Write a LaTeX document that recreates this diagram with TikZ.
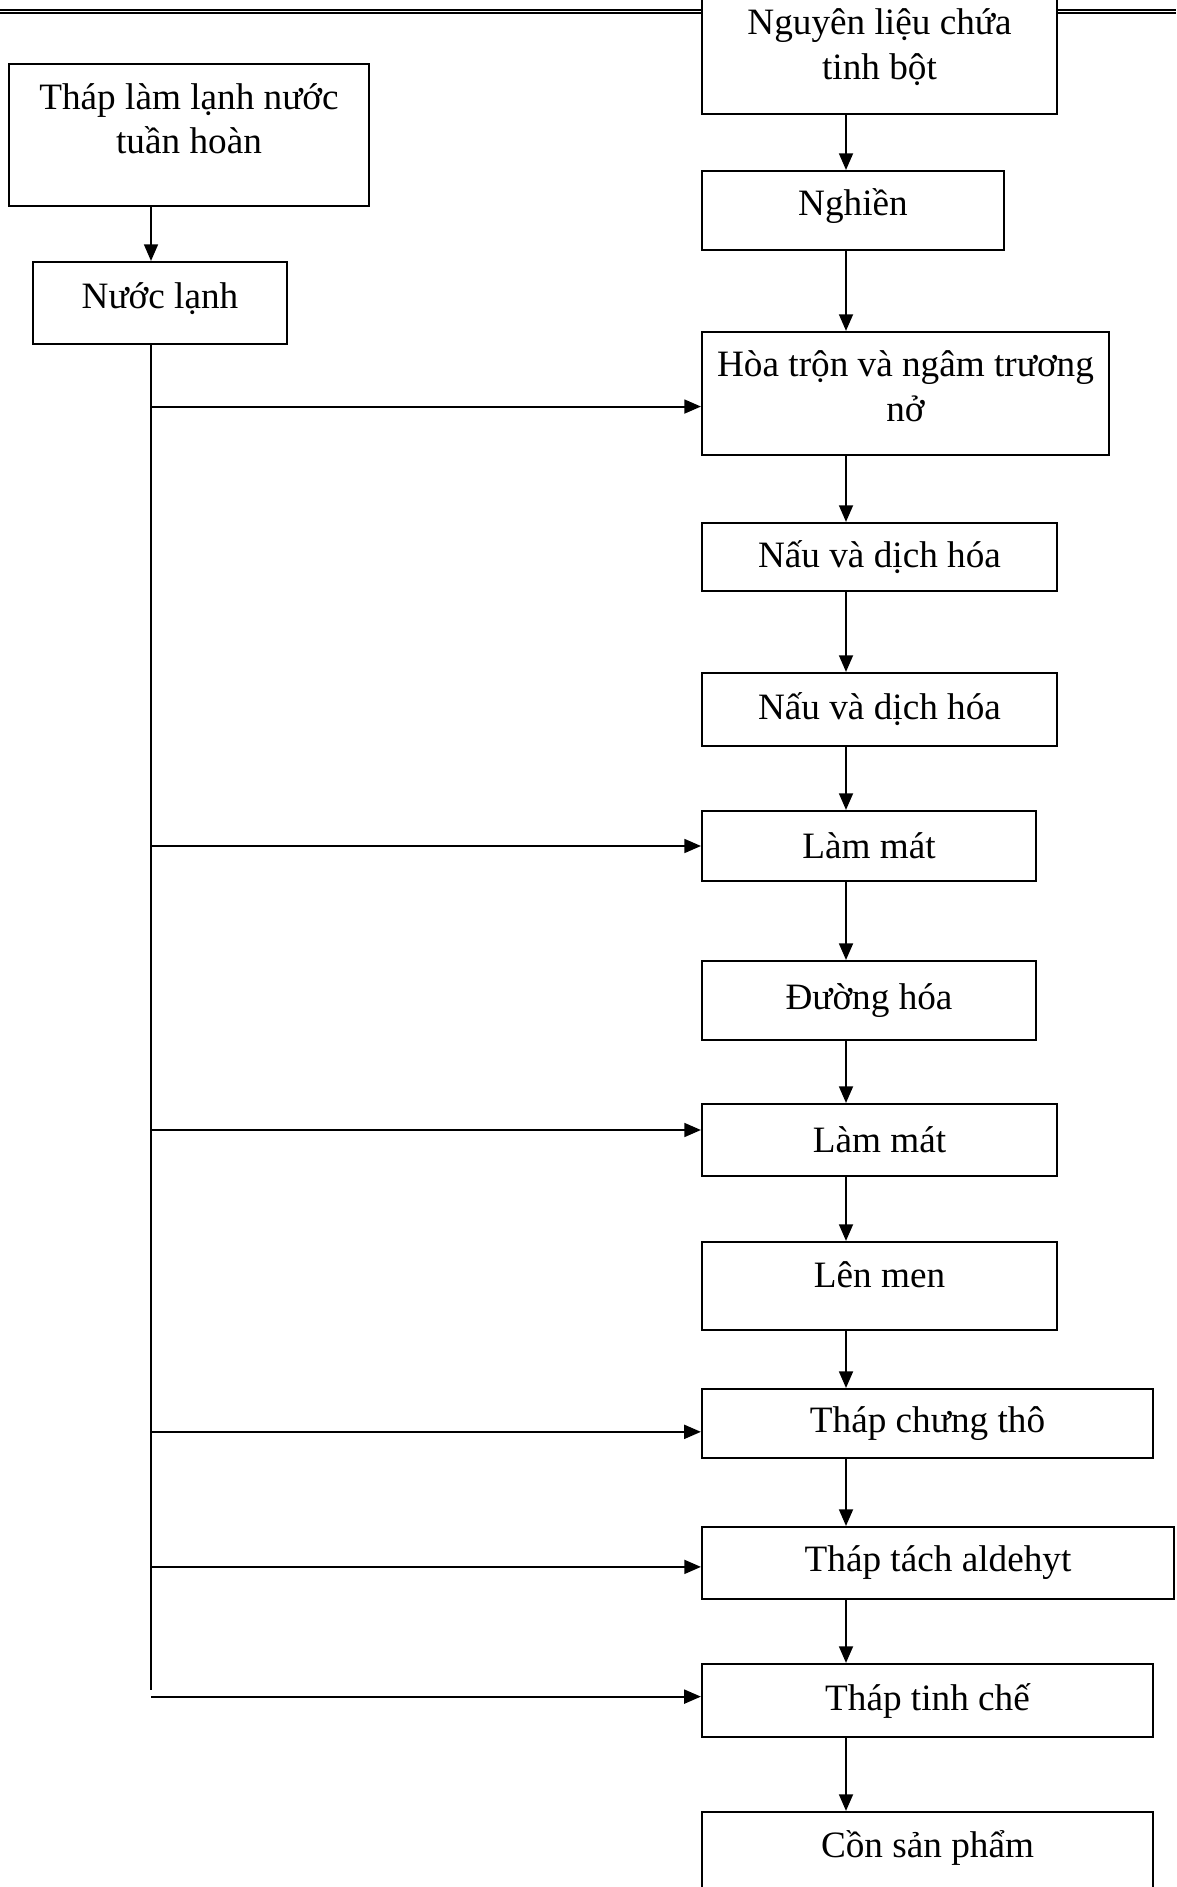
\documentclass[tikz,border=0pt]{standalone}
\usepackage{fontspec}
\setmainfont{Liberation Serif}
\usetikzlibrary{arrows.meta,positioning,calc}

\tikzset{
  procbox/.style={draw,line width=0.75pt,fill=white,align=center,inner sep=2pt,
    font=\fontsize{13.4pt}{16pt}\selectfont},
  flow/.style={line width=0.75pt,-{Triangle[length=6pt,width=5pt]}},
}

\begin{document}
\begin{tikzpicture}[x=0.36pt,y=-0.36pt]
        \useasboundingbox (0,0) rectangle (1176,1887);

        % Header rule
        \draw[line width=0.8pt] (0,10) -- (1176,10);
        \draw[line width=0.4pt] (0,13) -- (1176,13);

        % Cooling tower and cold water
        \node[procbox,minimum width=129.6pt,minimum height=51.1pt,text depth=12pt] (tower) at (189,135) {Tháp làm lạnh nước\\tuần hoàn};
        \node[procbox,minimum width=91.4pt,minimum height=29.5pt,text depth=5pt] (water) at (160,303) {Nước lạnh};

        % Main process line
        \node[procbox,minimum width=127.8pt,minimum height=48.2pt] (raw) at (879.5,47) {Nguyên liệu chứa\\tinh bột};
        \node[procbox,minimum width=108.7pt,minimum height=28.4pt,text depth=6pt] (mill) at (853,210.5) {Nghiền};
        \node[procbox,minimum width=146.5pt,minimum height=44.3pt,text depth=5.4pt] (mix) at (905.5,393.5) {Hòa trộn và ngâm trương\\nở};
        \node[procbox,minimum width=127.8pt,minimum height=24.5pt] (cook1) at (879.5,557) {Nấu và dịch hóa};
        \node[procbox,minimum width=127.8pt,minimum height=26.3pt] (cook2) at (879.5,709.5) {Nấu và dịch hóa};
        \node[procbox,minimum width=120.2pt,minimum height=25.2pt] (cool1) at (869,846) {Làm mát};
        \node[procbox,minimum width=120.2pt,minimum height=28.4pt] (sacch) at (869,1000.5) {Đường hóa};
        \node[procbox,minimum width=127.8pt,minimum height=25.9pt] (cool2) at (879.5,1140) {Làm mát};
        \node[procbox,minimum width=127.8pt,minimum height=31.7pt,text depth=8pt] (ferm) at (879.5,1286) {Lên men};
        \node[procbox,minimum width=162.4pt,minimum height=24.8pt] (crude) at (927.5,1423.5) {Tháp chưng thô};
        \node[procbox,minimum width=169.9pt,minimum height=25.9pt] (ald) at (938,1563) {Tháp tách aldehyt};
        \node[procbox,minimum width=162.4pt,minimum height=26.3pt] (rect) at (927.5,1700.5) {Tháp tinh chế};
        \node[procbox,minimum width=162.4pt,minimum height=31.7pt,text depth=8.5pt] (prod) at (927.5,1856) {Cồn sản phẩm};

        % Connectors
        \coordinate (axis) at (846,0);
        \coordinate (trunk) at (151,0);
        \coordinate (trunkend) at (151,1690);

        \foreach \a/\b in {raw/mill,mill/mix,mix/cook1,cook1/cook2,cook2/cool1,cool1/sacch,sacch/cool2,cool2/ferm,ferm/crude,crude/ald,ald/rect,rect/prod}
            \draw[flow] (\a.south -| axis) -- (\b.north -| axis);

        \draw[flow] (tower.south -| trunk) -- (water.north -| trunk);
        \draw[line width=0.75pt] (water.south -| trunk) -- (trunkend);

        \foreach \n/\s in {mix/-4.7pt,cool1/0pt,cool2/3.6pt,crude/-3pt,ald/-1.4pt,rect/1.4pt}
            \draw[flow] ([yshift=\s]\n.west -| trunk) -- ([yshift=\s]\n.west);
    \end{tikzpicture}
\end{document}
